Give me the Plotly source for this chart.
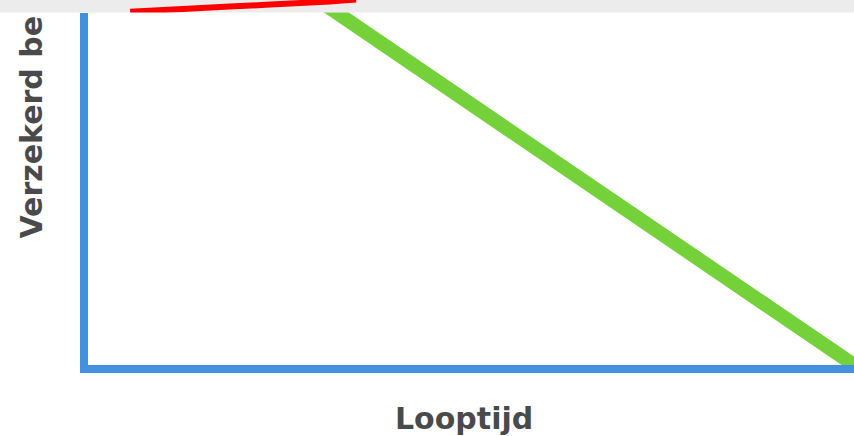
import plotly.graph_objects as go

# Data
green_x = [0, 100]
green_y = [148, 0]
red_x = [5.5, 18.5, 31.6, 35.0]
red_y = [100.2, 101.6, 103.0, 103.5]
x_title = "Looptijd"
y_title = "Verzekerd be"

BLUE = "#4290e0"
GREEN = "#74d13a"
RED = "#ff0000"
GREY_BAND = "#ececec"
TEXT = "#4a4a4a"

W, H = 854, 436
ML, MR, MT, MB = 88, 0, 0, 71
PH = H - MT - MB
PW = W - ML - MR
band_px = 12.5
main_top = 1 - band_px / PH


def px_x(x):
    return (x - ML) / PW


def px_y(y):
    return (PH - (y - MT)) / PH


fig = go.Figure()
fig.add_trace(go.Scatter(x=green_x, y=green_y, mode="lines",
                         line=dict(color=GREEN, width=14), xaxis="x", yaxis="y",
                         showlegend=False, hoverinfo="skip"))
fig.add_trace(go.Scatter(x=red_x, y=red_y, mode="lines",
                         line=dict(color=RED, width=6, shape="spline"), xaxis="x", yaxis="y2",
                         showlegend=False, hoverinfo="skip"))

font = dict(family="DejaVu Sans", size=30, color=TEXT, weight=700)

fig.update_layout(
    width=W, height=H,
    margin=dict(l=ML, r=MR, t=MT, b=MB, pad=0),
    paper_bgcolor="white", plot_bgcolor="white",
    showlegend=False,
    xaxis=dict(range=[0, 100], domain=[0, 1], showline=True, linecolor=BLUE, linewidth=8,
               showgrid=False, zeroline=False, showticklabels=False, ticks="", anchor="y"),
    yaxis=dict(range=[0, 100], domain=[0, main_top], showline=True, linecolor=BLUE, linewidth=8,
               showgrid=False, zeroline=False, showticklabels=False, ticks="", anchor="x"),
    yaxis2=dict(range=[100, 103.4], domain=[main_top, 1], showline=False,
                showgrid=False, zeroline=False, showticklabels=False, ticks="", anchor="x"),
    shapes=[dict(type="rect", xref="paper", yref="paper",
                 x0=-ML / PW - 0.01, x1=1.01, y0=main_top, y1=1.05,
                 fillcolor=GREY_BAND, line=dict(width=0), layer="below")],
    annotations=[
        dict(text=x_title, xref="paper", yref="paper",
             x=px_x(463.5), y=px_y(418),
             xanchor="center", yanchor="middle", showarrow=False, font=font),
        dict(text=y_title, xref="paper", yref="paper", textangle=-90,
             x=px_x(31), y=px_y(127.5),
             xanchor="center", yanchor="middle", showarrow=False, font=font),
    ],
)

fig.write_html("out.html", config={"displayModeBar": False},
               post_script="document.body.style.margin='0';document.body.style.overflow='hidden';")
